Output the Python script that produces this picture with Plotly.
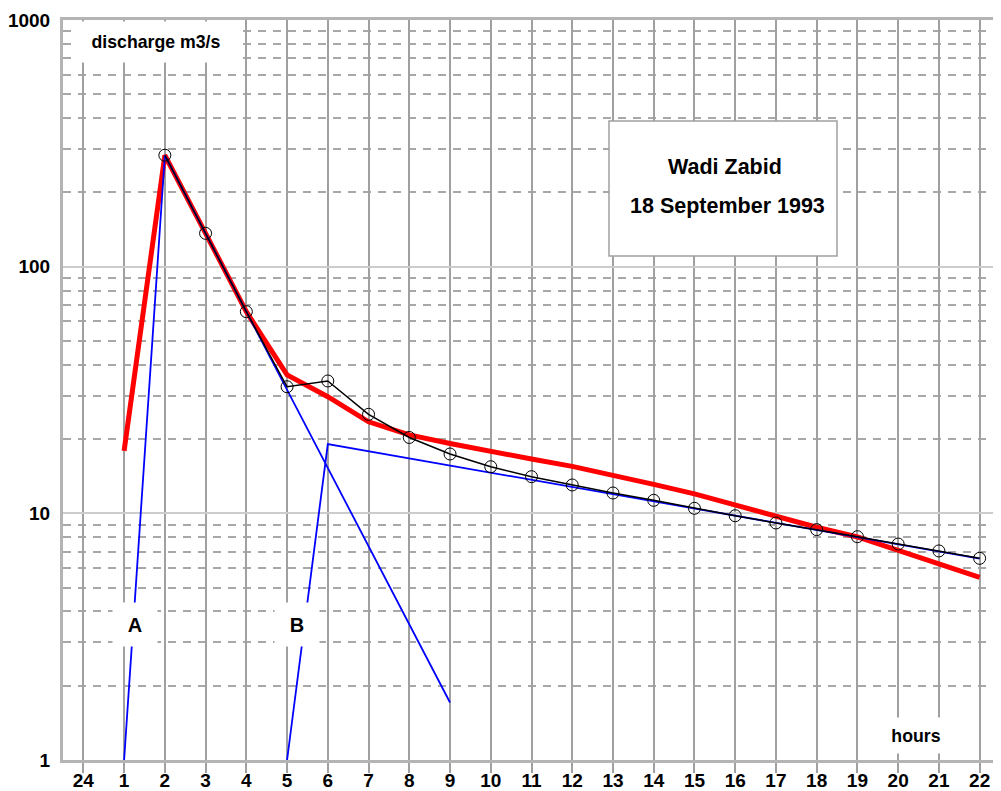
import plotly.graph_objects as go

# ---- data ----
hour_labels = ["24"] + [str(h) for h in range(1, 23)]

obs_hours = [str(h) for h in range(2, 23)]
obs_values = [283, 136.5, 65.7, 32.6, 34.4, 25.2, 20.3, 17.4, 15.45, 14.08, 13.03,
              12.09, 11.29, 10.48, 9.78, 9.14, 8.59, 8.04, 7.51, 7.04, 6.57]

model_hours = [str(h) for h in range(1, 23)]
model_values = [17.9, 283, 136.5, 65.7, 36.4, 29.7, 23.5, 20.8, 19.2, 17.8, 16.6,
                15.5, 14.3, 13.1, 12.0, 10.8, 9.8, 8.78, 8.02, 7.10, 6.27, 5.50]

a_hours = ["1", "2", "9"]
a_values = [1, 283, 1.71]

b_hours = ["5", "6", "22"]
b_values = [1, 19.1, 6.55]

y_ticks = [1, 10, 100, 1000]
y_ticktext = ["1", "10", "100", "1000"]
y_minor = [m * d for d in (1, 10, 100) for m in range(2, 10)]

FONT = "Liberation Sans, Arial, sans-serif"

fig = go.Figure()
fig.add_trace(go.Scatter(x=model_hours, y=model_values, mode="lines",
                         line=dict(color="#ff0000", width=5), showlegend=False))
fig.add_trace(go.Scatter(x=a_hours, y=a_values, mode="lines",
                         line=dict(color="#0000ff", width=1.8), showlegend=False))
fig.add_trace(go.Scatter(x=b_hours, y=b_values, mode="lines",
                         line=dict(color="#0000ff", width=1.8), showlegend=False))
fig.add_trace(go.Scatter(x=obs_hours, y=obs_values, mode="lines+markers",
                         line=dict(color="#000000", width=1.5),
                         marker=dict(symbol="circle-open", size=12,
                                     line=dict(color="#000000", width=1)),
                         showlegend=False))

# paper coordinate helpers (plot area 63..1000 x 20..760 px on the page)
def px(x):
    return (x - 63) / 937.0

def py(y):
    return (760 - y) / 740.0

annots = [
    dict(text="discharge m3/s", x=px(156), y=py(42), width=168, height=40, size=17.7),
    dict(text="A", x=px(135), y=py(624), width=44, height=43, size=20),
    dict(text="B", x=px(297), y=py(624), width=44, height=43, size=20),
    dict(text="hours", x=px(916), y=py(735), width=70, height=35, size=17.7),
]
for a in annots:
    fig.add_annotation(text=a["text"], x=a["x"], y=a["y"], xref="paper", yref="paper",
                       xanchor="center", yanchor="middle", showarrow=False,
                       width=a["width"], height=a["height"], bgcolor="white",
                       borderpad=0,
                       font=dict(family=FONT, size=a["size"], color="black", weight="bold"))

fig.add_shape(type="rect", xref="paper", yref="paper",
              x0=px(609), x1=px(837), y0=py(256), y1=py(121),
              fillcolor="white", line=dict(color="#a0a0a0", width=1.5), layer="above")
fig.add_annotation(text="Wadi Zabid", x=px(725), y=py(167), xref="paper", yref="paper",
                   showarrow=False, xanchor="center", yanchor="middle",
                   font=dict(family=FONT, size=21.5, color="black", weight="bold"))
fig.add_annotation(text="18 September 1993", x=px(727), y=py(206), xref="paper", yref="paper",
                   showarrow=False, xanchor="center", yanchor="middle",
                   font=dict(family=FONT, size=21.5, color="black", weight="bold"))

fig.update_xaxes(type="category", categoryorder="array", categoryarray=hour_labels,
                 range=[-0.5, 22.5], showgrid=True, gridcolor="#a0a0a0", gridwidth=2,
                 showline=True, linecolor="#b4b4b4", linewidth=2.5, mirror=True,
                 ticks="outside", ticklen=10, tickwidth=2, tickcolor="#a0a0a0",
                 ticklabelstandoff=-9,
                 zeroline=False, automargin=False,
                 tickfont=dict(family=FONT, size=19, color="black", weight="bold"))
fig.update_yaxes(type="log", range=[0, 3], tickvals=y_ticks, ticktext=y_ticktext,
                 showgrid=True, gridcolor="#cccccc", gridwidth=2,
                 minor=dict(tickvals=y_minor, showgrid=True, griddash="8px,7px",
                            gridcolor="#a8a8a8", gridwidth=1.5, ticks=""),
                 showline=True, linecolor="#b4b4b4", linewidth=3, mirror=True,
                 ticks="", zeroline=False, ticklabelstandoff=6, automargin=False,
                 tickfont=dict(family=FONT, size=19, color="black", weight="bold"))

# the page body has an 8px margin, so the figure is 8px smaller and shifted
fig.update_layout(width=993, height=783,
                  margin=dict(l=55, r=1, t=12, b=31, pad=0),
                  plot_bgcolor="white", paper_bgcolor="white",
                  font=dict(family=FONT))

fig.write_html("out.html")
